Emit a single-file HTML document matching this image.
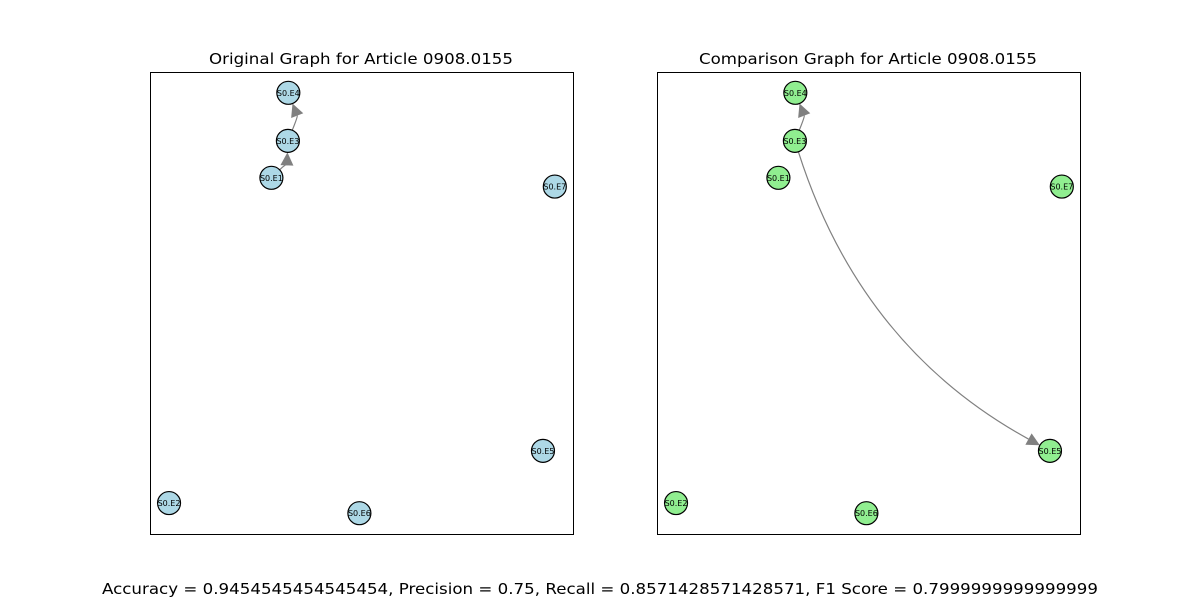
<!DOCTYPE html>
<html><head><meta charset="utf-8"><style>
html,body{margin:0;padding:0;background:#fff;}
svg{display:block;font-family:"DejaVu Sans","Liberation Sans",sans-serif;}
</style></head><body>
<svg id="chart" width="1200" height="600">
<text x="361" y="64" font-size="15.5" text-anchor="middle" textLength="304" lengthAdjust="spacingAndGlyphs">Original Graph for Article 0908.0155</text>
<text x="868" y="64" font-size="15.5" text-anchor="middle" textLength="338" lengthAdjust="spacingAndGlyphs">Comparison Graph for Article 0908.0155</text>
<rect x="150.5" y="72.5" width="423" height="462" fill="none" stroke="#000" stroke-width="1"/>
<rect x="657.5" y="72.5" width="423" height="462" fill="none" stroke="#000" stroke-width="1"/>
<g id="edges"></g><g id="nodes"></g>
<text x="600" y="594" font-size="15.5" text-anchor="middle" textLength="996" lengthAdjust="spacingAndGlyphs">Accuracy = 0.9454545454545454, Precision = 0.75, Recall = 0.8571428571428571, F1 Score = 0.7999999999999999</text>
</svg>
<script>
const nodeNames = ["S0.E4","S0.E3","S0.E1","S0.E7","S0.E5","S0.E2","S0.E6"];
const nodeX = [0.327,0.326,0.287,0.957,0.929,0.045,0.495];
const nodeY = [0.955,0.851,0.771,0.752,0.180,0.067,0.045];
const leftEdges = [["S0.E1","S0.E3"],["S0.E3","S0.E4"]];
const rightEdges = [["S0.E3","S0.E4"],["S0.E3","S0.E5"]];
const panels = [{x0:150,name:"left",fill:"#add8e6",edges:leftEdges},{x0:657,name:"right",fill:"#90ee90",edges:rightEdges}];
const W=423,H=462,Y0=72,R=11.5;
const NS="http://www.w3.org/2000/svg";
const sx=(p,v)=>p.x0+v*W;
const sy=v=>Y0+(1-v)*H;
const eg=document.getElementById('edges'), ng=document.getElementById('nodes');
panels.forEach(p=>{
  p.edges.forEach(e=>{
    const a=nodeNames.indexOf(e[0]), b=nodeNames.indexOf(e[1]);
    const x1=sx(p,nodeX[a]),y1=sy(nodeY[a]),x2=sx(p,nodeX[b]),y2=sy(nodeY[b]);
    const dx=x2-x1,dy=y2-y1,rad=0.2;
    const cx=(x1+x2)/2-rad*dy, cy=(y1+y2)/2+rad*dx;
    let tx=x2-cx,ty=y2-cy;const tl=Math.hypot(tx,ty);tx/=tl;ty/=tl;
    let sxv=cx-x1,syv=cy-y1;const sl=Math.hypot(sxv,syv);sxv/=sl;syv/=sl;
    const ex=x2-tx*R, ey=y2-ty*R;
    const bx=ex-tx*13, by=ey-ty*13;
    const stx=x1+sxv*R, sty=y1+syv*R;
    const path=document.createElementNS(NS,'path');
    path.setAttribute('d',`M${stx},${sty} Q${cx},${cy} ${bx},${by}`);
    path.setAttribute('fill','none');path.setAttribute('stroke','#808080');path.setAttribute('stroke-width','1.2');
    
    
    eg.appendChild(path);
    const nx=-ty,ny=tx;
    const poly=document.createElementNS(NS,'polygon');
    poly.setAttribute('points',`${ex},${ey} ${bx+nx*6.5},${by+ny*6.5} ${bx-nx*6.5},${by-ny*6.5}`);
    poly.setAttribute('fill','#808080');
    
    
    eg.appendChild(poly);
  });
  nodeNames.forEach((n,i)=>{
    const g=document.createElementNS(NS,'g');
    
    
    const c=document.createElementNS(NS,'circle');
    c.setAttribute('cx',sx(p,nodeX[i]));c.setAttribute('cy',sy(nodeY[i]));c.setAttribute('r',R);
    c.setAttribute('fill',p.fill);c.setAttribute('stroke','#000');c.setAttribute('stroke-width','1.2');
    g.appendChild(c);
    const t=document.createElementNS(NS,'text');
    t.setAttribute('x',sx(p,nodeX[i]));t.setAttribute('y',sy(nodeY[i])+3);
    t.setAttribute('font-size','8');t.setAttribute('text-anchor','middle');
    t.textContent=n;
    g.appendChild(t);
    ng.appendChild(g);
  });
});
</script>
</body></html>
